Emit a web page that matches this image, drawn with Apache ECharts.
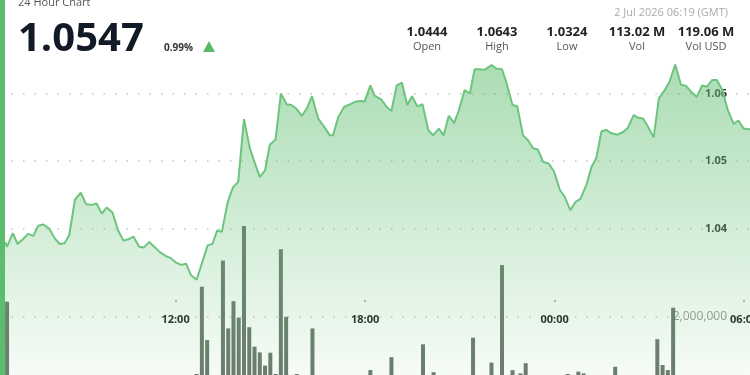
<!DOCTYPE html>
<html>
<head>
<meta charset="utf-8">
<script src="https://cdn.jsdelivr.net/npm/echarts@6/dist/echarts.min.js"></script>
<style>
  html, body { margin: 0; padding: 0; background: #fff; }
  #chart { width: 750px; height: 375px; }
</style>
</head>
<body>
<div id="chart"></div>
<script>
// price samples (time of day, rolls over past midnight)
const priceTimes = [
  "06:36","06:40","06:51","07:00","07:10","07:20","07:30","07:39","07:49","08:00",
  "08:11","08:20","08:29","08:38","08:49","09:00","09:10","09:21","09:30","09:40",
  "09:49","10:00","10:11","10:21","10:30","10:40","10:51","11:00","11:10","11:21",
  "11:30","11:42","11:51","12:02","12:11","12:20","12:29","12:40","12:49","13:01",
  "13:10","13:19","13:28","13:39","13:49","13:59","14:10","14:21","14:31","14:40",
  "14:50","14:59","15:10","15:20","15:31","15:40","15:50","16:00","16:10","16:19",
  "16:31","16:42","16:53","16:59","17:09","17:20","17:31","17:42","17:51","17:59",
  "18:10","18:18","18:31","18:41","18:50","19:00","19:10","19:20","19:29","19:39",
  "19:49","20:00","20:09","20:20","20:29","20:39","20:49","20:58","21:09","21:19",
  "21:28","21:38","21:47","22:00","22:09","22:20","22:28","22:40","22:49","23:00",
  "23:09","23:19","23:28","23:38","23:49","23:59","00:10","00:19","00:30","00:39",
  "00:49","01:00","01:10","01:19","01:29","01:38","01:48","01:59","02:10","02:19",
  "02:30","02:39","02:48","02:57","03:08","03:18","03:29","03:38","03:49","04:00",
  "04:10","04:21","04:30","04:40","04:49","04:59","05:08","05:18","05:29","05:40",
  "05:49","05:59","06:10","06:19"
];
const prices = [
  1.0380,1.0373,1.0393,1.0377,1.0384,1.0392,1.0389,1.0404,1.0406,1.0400,
  1.0385,1.0377,1.0378,1.0390,1.0443,1.0453,1.0436,1.0435,1.0437,1.0422,
  1.0431,1.0424,1.0397,1.0382,1.0384,1.0388,1.0373,1.0372,1.0380,1.0372,
  1.0365,1.0359,1.0356,1.0349,1.0346,1.0348,1.0331,1.0324,1.0346,1.0375,
  1.0377,1.0397,1.0395,1.0439,1.0461,1.0469,1.0562,1.0519,1.0496,1.0476,
  1.0486,1.0524,1.0532,1.0600,1.0584,1.0583,1.0577,1.0567,1.0579,1.0596,
  1.0563,1.0551,1.0538,1.0538,1.0565,1.0580,1.0584,1.0588,1.0589,1.0588,
  1.0612,1.0597,1.0591,1.0580,1.0574,1.0612,1.0616,1.0583,1.0596,1.0581,
  1.0584,1.0546,1.0538,1.0548,1.0538,1.0567,1.0556,1.0575,1.0605,1.0600,
  1.0636,1.0636,1.0635,1.0642,1.0637,1.0636,1.0617,1.0583,1.0581,1.0538,
  1.0531,1.0519,1.0517,1.0499,1.0496,1.0484,1.0457,1.0447,1.0427,1.0439,
  1.0444,1.0464,1.0491,1.0504,1.0544,1.0546,1.0541,1.0539,1.0543,1.0549,
  1.0568,1.0564,1.0563,1.0551,1.0535,1.0593,1.0605,1.0617,1.0643,1.0613,
  1.0611,1.0601,1.0595,1.0612,1.0610,1.0620,1.0620,1.0606,1.0575,1.0555,
  1.0560,1.0548,1.0547,1.0547
];

// volume bars
const volumeTimes = [
  "06:40","12:40","12:50","13:00","13:30","13:40","13:50","14:00","14:10","14:20",
  "14:30","14:40","14:50","15:00","15:10","15:20","15:30","15:50","16:20","18:10",
  "18:50","19:50","20:10","21:25","22:00","22:20","22:40","22:55","23:05","00:25",
  "00:45","00:55","01:55","03:15","03:25","03:35","03:45"
];
const volumes = [
  2510000,100000,3010000,1230000,3880000,1620000,2530000,1980000,5030000,1660000,
  1010000,820000,380000,810000,100000,4260000,2010000,100000,1620000,230000,
  660000,1090000,160000,1310000,480000,3730000,230000,120000,460000,100000,
  180000,120000,340000,1260000,400000,230000,2310000
];

const hourTicks = [12, 18, 24, 30];
const lastPrice = "1.0547";
const changePct = "0.99%";
const updatedAt = "2 Jul 2026 06:19 (GMT)";
const statValues = ["1.0444", "1.0643", "1.0324", "113.02 M", "119.06 M"];
const statLabels = ["Open", "High", "Low", "Vol", "Vol USD"];

function toHours(times) {
  let offset = 0, prev = -1;
  return times.map(t => {
    const [h, m] = t.split(":").map(Number);
    let v = h + m / 60 + offset;
    if (v < prev) { offset += 24; v += 24; }
    prev = v;
    return v;
  });
}

const priceX = toHours(priceTimes);
const volX = toHours(volumeTimes);
const priceData = prices.map((p, i) => [priceX[i], p]);
const volData = volumes.map((v, i) => [volX[i], v]);

// visible window starts a little after 06:26 and runs past 06:19 next day
const X_MIN = 6.443, X_MAX = 30.5;
const GRID_W = 760;
const dotted = { color: "rgba(140,140,140,0.5)", width: 1.5, type: [1.5, 10] };
const hiddenX = (g) => ({ gridIndex: g, type: "value", min: X_MIN, max: X_MAX, show: false });

const chart = echarts.init(document.getElementById("chart"));

const statX = [427, 497, 567, 637, 706];
const graphics = [
  { type: "rect", z: 100, shape: { x: 0, y: 0, width: 5, height: 375 }, style: { fill: "#5dbd6e" } },
  { type: "text", x: 18, y: -3, style: { text: "24 Hour Chart", fill: "#555", fontSize: 11, fontFamily: "Open Sans" } },
  { type: "text", x: 18, y: 20, style: { text: lastPrice, fill: "#111a26", fontSize: 40, fontWeight: "bold", fontFamily: "Open Sans" } },
  { type: "text", x: 164, y: 43, style: { text: changePct, fill: "#333", fontSize: 10, fontWeight: "bold", fontFamily: "Open Sans" } },
  { type: "polygon", shape: { points: [[203, 52], [215, 52], [209, 41]] }, style: { fill: "#58b96a" } },
  { type: "text", x: 728, y: 13, style: { text: updatedAt, fill: "#aaa", fontSize: 11, fontFamily: "Open Sans", textAlign: "right", textVerticalAlign: "middle" } }
];
statValues.forEach((v, i) => {
  graphics.push({ type: "text", x: statX[i], y: 32, style: { text: v, fill: "#222", fontSize: 13, fontWeight: "bold", fontFamily: "Open Sans", textAlign: "center", textVerticalAlign: "middle" } });
  graphics.push({ type: "text", x: statX[i], y: 47, style: { text: statLabels[i], fill: "#555", fontSize: 11, fontFamily: "Open Sans", textAlign: "center", textVerticalAlign: "middle" } });
});

const option = {
  animation: false,
  textStyle: { fontFamily: "Open Sans" },
  grid: [
    { left: 0, width: GRID_W, top: 26, height: 351, outerBoundsMode: "none" },     // price series
    { left: 0, width: GRID_W, top: 93.5, height: 135, outerBoundsMode: "none" },   // price gridlines + time labels
    { left: 0, width: GRID_W, top: 317, height: 60, outerBoundsMode: "none" }      // volume
  ],
  xAxis: [
    hiddenX(0),
    {
      gridIndex: 1, type: "value", min: X_MIN, max: X_MAX, offset: 73.5,
      axisLine: { show: false },
      axisTick: { show: true, inside: true, length: 2, customValues: hourTicks, lineStyle: { color: "#999", width: 1.5 } },
      splitLine: { show: false },
      axisLabel: {
        margin: 12, fontSize: 11, fontWeight: "bold", color: "#222",
        customValues: hourTicks,
        formatter: v => String(v % 24).padStart(2, "0") + ":00"
      }
    },
    hiddenX(2)
  ],
  yAxis: [
    { gridIndex: 0, type: "value", min: 1.018, max: 1.07, show: false },
    {
      gridIndex: 1, type: "value", position: "right", min: 1.04, max: 1.06, interval: 0.01,
      axisLine: { show: false }, axisTick: { show: false },
      splitLine: { lineStyle: dotted },
      axisLabel: { inside: true, margin: 33, fontSize: 11, fontWeight: "bold", color: "#333", formatter: v => v.toFixed(2) }
    },
    {
      gridIndex: 2, type: "value", position: "right", min: 0, max: 2000000, interval: 2000000,
      axisLine: { show: false }, axisTick: { show: false },
      splitLine: { lineStyle: dotted },
      axisLabel: { inside: true, margin: 33, fontSize: 12, color: "#999", formatter: v => v === 0 ? "" : v.toLocaleString("en-US") }
    }
  ],
  series: [
    {
      type: "line", xAxisIndex: 0, yAxisIndex: 0, data: priceData,
      showSymbol: false, symbol: "none",
      lineStyle: { color: "#6cc47e", width: 2 },
      areaStyle: {
        origin: "start",
        color: new echarts.graphic.LinearGradient(0, 0, 0, 1, [
          { offset: 0, color: "rgba(96,190,112,0.75)" },
          { offset: 1, color: "rgba(96,190,112,0.08)" }
        ])
      }
    },
    {
      type: "bar", xAxisIndex: 2, yAxisIndex: 2, data: volData,
      barWidth: 4, clip: false,
      itemStyle: { color: "rgba(88,102,90,0.88)" }
    }
  ],
  graphic: graphics
};

chart.setOption(option);
</script>
</body>
</html>
